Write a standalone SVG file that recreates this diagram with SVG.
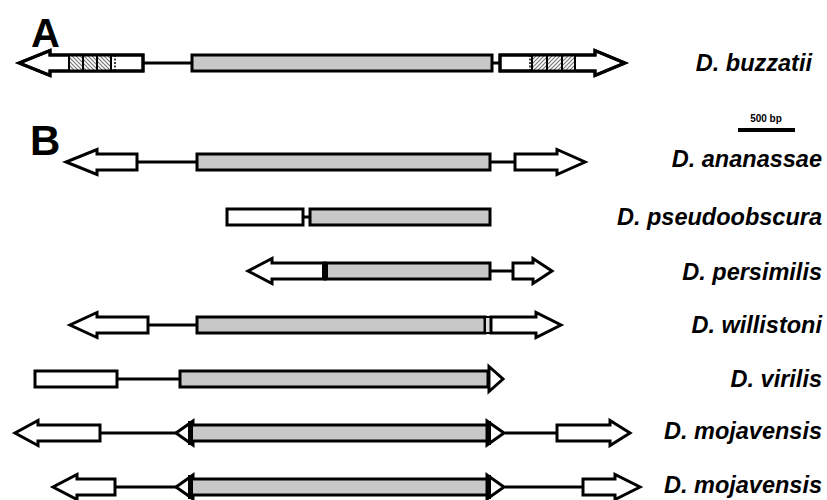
<svg xmlns="http://www.w3.org/2000/svg" width="827" height="500" viewBox="0 0 827 500">
<defs>
<pattern id="hl" patternUnits="userSpaceOnUse" width="4" height="4"><rect width="4" height="4" fill="#fff"/><path d="M-1,-1 L5,5 M-1,3 L1,5 M3,-1 L5,1" stroke="#777" stroke-width="1.2"/></pattern>
<pattern id="hr" patternUnits="userSpaceOnUse" width="4" height="4"><rect width="4" height="4" fill="#fff"/><path d="M-1,5 L5,-1 M-1,1 L1,-1 M3,5 L5,3" stroke="#777" stroke-width="1.2"/></pattern>
</defs>
<style>
.w{fill:#fff;stroke:#000;stroke-width:3;stroke-linejoin:miter}
.g{fill:#c8c8c8;stroke:#000;stroke-width:3}
.ln{stroke:#000;stroke-width:3;fill:none}
.dv{stroke:#000;stroke-width:2}
.ds{stroke:#000;stroke-width:1.5;stroke-dasharray:2 1.5}
.lb{font-family:"Liberation Sans",Arial,sans-serif;font-weight:bold;font-style:italic;font-size:23.5px;text-anchor:end;fill:#000}
.big{font-family:"Liberation Sans",Arial,sans-serif;font-weight:bold;fill:#000}
</style>
<rect width="827" height="500" fill="#fff"/>
<g id="connectors">
<line class="ln" x1="143" y1="63" x2="192" y2="63"/>
<line class="ln" x1="492" y1="63" x2="500" y2="63"/>
<line class="ln" x1="137" y1="162" x2="197" y2="162"/>
<line class="ln" x1="490" y1="162" x2="515" y2="162"/>
<line class="ln" x1="303" y1="217" x2="310" y2="217"/>
<line class="ln" x1="490" y1="271" x2="513" y2="271"/>
<line class="ln" x1="148" y1="325" x2="197" y2="325"/>
<line class="ln" x1="117" y1="379" x2="180" y2="379"/>
<line class="ln" x1="100" y1="433" x2="177" y2="433"/>
<line class="ln" x1="505" y1="433" x2="557" y2="433"/>
<line class="ln" x1="115" y1="487" x2="177" y2="487"/>
<line class="ln" x1="505" y1="487" x2="583" y2="487"/>
</g>
<g id="labelA"><text class="big" x="31" y="47" font-size="40">A</text></g>
<g id="labelB"><text class="big" x="30" y="155" font-size="42">B</text></g>
<g id="buzzatii">
<polygon class="w" points="143,55 50,55 50,50.5 19,63 50,75.5 50,71 143,71"/>
<rect x="69" y="55" width="42" height="16" fill="url(#hl)"/>
<line class="dv" x1="69" y1="55" x2="69" y2="71"/><line class="dv" x1="83" y1="55" x2="83" y2="71"/><line class="dv" x1="97" y1="55" x2="97" y2="71"/><line class="dv" x1="111" y1="55" x2="111" y2="71"/>
<line class="ds" x1="115" y1="55" x2="115" y2="71"/>
<rect class="g" x="192" y="55" width="300" height="16"/>
<polygon class="w" points="500,55 595,55 595,50.5 625,63 595,75.5 595,71 500,71"/>
<rect x="532" y="55" width="43" height="16" fill="url(#hr)"/>
<line class="ds" x1="530" y1="55" x2="530" y2="71"/>
<line class="dv" x1="532" y1="55" x2="532" y2="71"/><line class="dv" x1="547" y1="55" x2="547" y2="71"/><line class="dv" x1="562" y1="55" x2="562" y2="71"/><line class="dv" x1="575" y1="55" x2="575" y2="71"/>
<polygon points="500,55 595,55 595,50.5 625,63 595,75.5 595,71 500,71" fill="none" stroke="#000" stroke-width="3"/>
<polygon points="143,55 50,55 50,50.5 19,63 50,75.5 50,71 143,71" fill="none" stroke="#000" stroke-width="3"/>
<text class="lb" x="812" y="71" font-size="21.5">D. buzzatii</text>
</g>
<g id="scalebar">
<text x="766" y="122" font-family="Liberation Sans,Arial,sans-serif" font-weight="bold" font-size="10" text-anchor="middle">500 bp</text>
<line x1="738" y1="130" x2="795" y2="130" stroke="#000" stroke-width="4"/>
</g>
<g id="ananassae">
<polygon class="w" points="137,154 97,154 97,149.5 66,162 97,174.5 97,170 137,170"/>
<rect class="g" x="197" y="154" width="293" height="16"/>
<polygon class="w" points="515,154 557,154 557,149.5 585,162 557,174.5 557,170 515,170"/>
<text class="lb" x="822" y="167">D. ananassae</text>
</g>
<g id="pseudoobscura">
<rect class="w" x="227" y="209" width="76" height="16"/>
<rect class="g" x="310" y="209" width="180" height="16"/>
<text class="lb" x="822" y="225">D. pseudoobscura</text>
</g>
<g id="persimilis">
<polygon class="w" points="325,263 272,263 272,258.5 248,271 272,283.5 272,279 325,279"/>
<rect class="g" x="325" y="263" width="165" height="16"/>
<rect x="322" y="262" width="6" height="18" fill="#000"/>
<polygon class="w" points="513,263 533,263 533,258.5 552,271 533,283.5 533,279 513,279"/>
<text class="lb" x="822" y="280">D. persimilis</text>
</g>
<g id="willistoni">
<polygon class="w" points="148,317 97,317 97,312.5 70,325 97,337.5 97,333 148,333"/>
<rect class="g" x="197" y="317" width="288" height="16"/>
<rect x="485" y="317" width="6" height="16" fill="#ddd" stroke="#000" stroke-width="2"/>
<polygon class="w" points="491,317 536,317 536,312.5 561,325 536,337.5 536,333 491,333"/>
<text class="lb" x="822" y="333">D. willistoni</text>
</g>
<g id="virilis">
<rect class="w" x="35" y="371" width="82" height="16"/>
<polygon class="w" points="489,366.5 503,379 489,391.5"/>
<rect class="g" x="180" y="371" width="308" height="16"/>
<text class="lb" x="822" y="387">D. virilis</text>
</g>
<g id="mojavensis1">
<polygon class="w" points="100,425 38,425 38,420.5 15,433 38,445.5 38,441 100,441"/>
<polygon class="w" points="193,421 176,433 193,445"/>
<polygon class="w" points="487,421 504,433 487,445"/>
<rect class="g" x="191" y="425" width="296" height="16"/>
<rect x="188" y="421" width="5" height="24" fill="#000"/>
<rect x="486" y="421" width="5" height="24" fill="#000"/>
<polygon class="w" points="557,425 610,425 610,420.5 630,433 610,445.5 610,441 557,441"/>
<text class="lb" x="822" y="439">D. mojavensis</text>
</g>
<g id="mojavensis2">
<polygon class="w" points="115,479 77,479 77,474.5 53,487 77,499.5 77,495 115,495"/>
<polygon class="w" points="193,475 176,487 193,499"/>
<polygon class="w" points="487,475 504,487 487,499"/>
<rect class="g" x="191" y="479" width="296" height="16"/>
<rect x="188" y="475" width="5" height="24" fill="#000"/>
<rect x="486" y="475" width="5" height="24" fill="#000"/>
<polygon class="w" points="583,479 615,479 615,474.5 640,487 615,499.5 615,495 583,495"/>
<text class="lb" x="822" y="493">D. mojavensis</text>
</g>
</svg>
